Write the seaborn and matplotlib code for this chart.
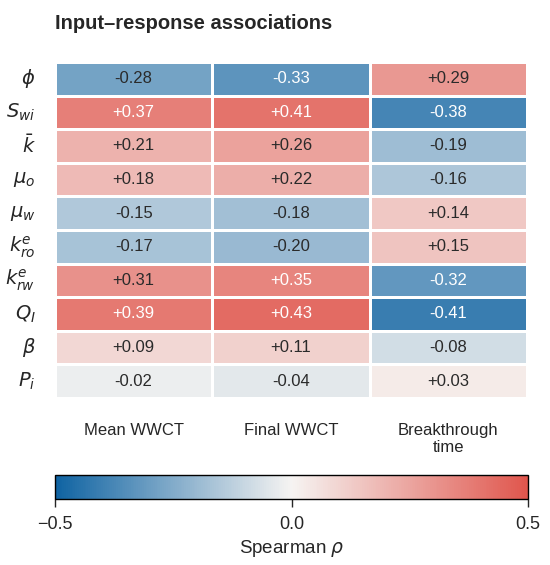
import numpy as np
import pandas as pd
import matplotlib
matplotlib.use("Agg")
import matplotlib.pyplot as plt
import seaborn as sns
from matplotlib.colors import LinearSegmentedColormap

# ── data ─────────────────────────────────────────────
inputs = [r"$\phi$", r"$S_{wi}$", r"$\bar{k}$", r"$\mu_o$", r"$\mu_w$",
          r"$k_{ro}^{e}$", r"$k_{rw}^{e}$", r"$Q_I$", r"$\beta$", r"$P_i$"]
responses = ["Mean WWCT", "Final WWCT", "Breakthrough\ntime"]
mean_wwct = [-0.28, 0.37, 0.21, 0.18, -0.15, -0.17, 0.31, 0.39, 0.09, -0.02]
final_wwct = [-0.33, 0.41, 0.26, 0.22, -0.18, -0.20, 0.35, 0.43, 0.11, -0.04]
breakthrough = [0.29, -0.38, -0.19, -0.16, 0.14, 0.15, -0.32, -0.41, -0.08, 0.03]

df = pd.DataFrame({responses[0]: mean_wwct,
                   responses[1]: final_wwct,
                   responses[2]: breakthrough}, index=inputs)

sns.set_style("white")
plt.rcParams["font.family"] = ["Liberation Sans", "DejaVu Sans"]
plt.rcParams["mathtext.fontset"] = "dejavusans"

cmap = LinearSegmentedColormap.from_list("bwr_soft", ["#0f63a2", "#f6f4f2", "#e0564d"])
vmin, vmax = -0.5, 0.5

fig = plt.figure(figsize=(5.5, 5.65), dpi=100)
ax = fig.add_axes([0.1, 0.2956, 0.858, 0.5947])
cax = fig.add_axes([0.1, 0.1168, 0.86, 0.0425])

annot = df.map(lambda v: f"{v:+.2f}")
sns.heatmap(df, ax=ax, cmap=cmap, vmin=vmin, vmax=vmax, center=0,
            annot=annot, fmt="", linewidths=2, linecolor="white",
            cbar=True, cbar_ax=cax, cbar_kws={"orientation": "horizontal"},
            annot_kws={"fontsize": 12})

# strong correlations get white text
for txt, v in zip(ax.texts, df.values.ravel()):
    txt.set_color("white" if abs(v) >= 0.32 else "#2a2a2a")

ax.set_title("Input–response associations", loc="left", fontsize=14.5,
             fontweight="bold", pad=24)
ax.tick_params(axis="both", length=0)
ax.tick_params(axis="x", pad=18, labelsize=12)
ax.tick_params(axis="y", pad=14, labelsize=14)
ax.set_xticklabels(responses, rotation=0, linespacing=1.15)
ax.set_yticklabels(inputs, rotation=0)
ax.xaxis.tick_bottom()

cb = ax.collections[0].colorbar
cb.set_ticks([-0.5, 0.0, 0.5])
cb.ax.tick_params(labelsize=13, length=6, width=1, direction="out", pad=6)
cb.outline.set_edgecolor("black")
cb.outline.set_linewidth(1)
cb.set_label(r"Spearman $\rho$", fontsize=13.5, labelpad=4)

fig.savefig("out.png", dpi=100)
